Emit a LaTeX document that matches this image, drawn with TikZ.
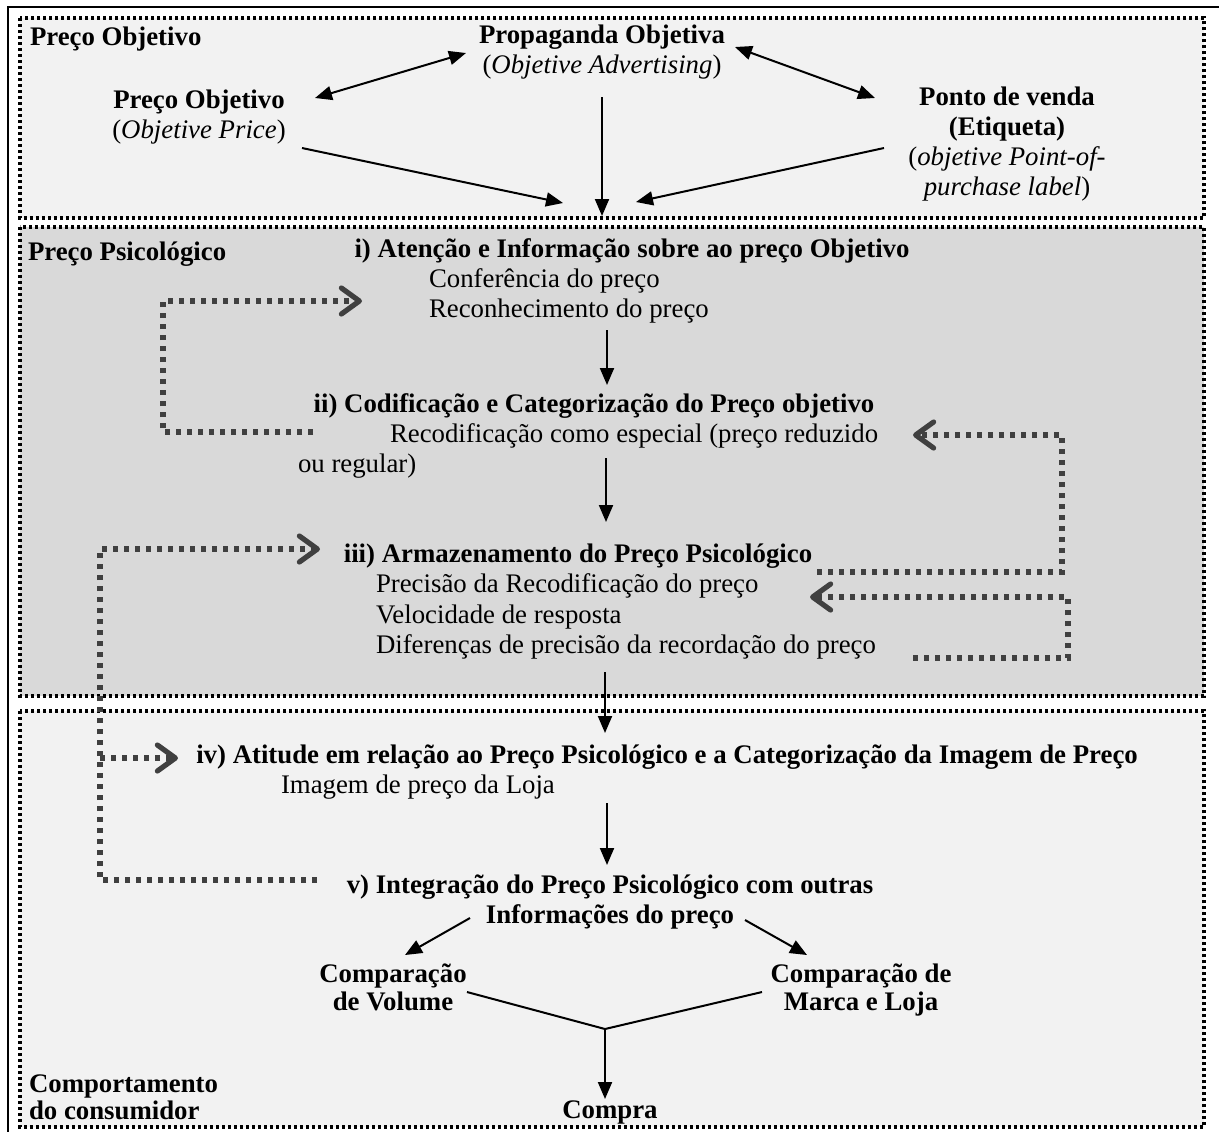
\documentclass[tikz,border=0pt]{standalone}
\usepackage{fontspec}
\setmainfont{Liberation Serif}
\usetikzlibrary{arrows.meta}

\definecolor{fundoclaro}{RGB}{242,242,242}
\definecolor{fundoescuro}{RGB}{217,217,217}
\definecolor{cinzaseta}{RGB}{64,64,64}

\tikzset{every picture/.style={line width=1pt}}
\tikzset{
	caixa/.style={draw=black, line width=1.7pt, dash pattern=on 1.6pt off 1.4pt},
	seta/.style={-{Triangle[length=8.5pt,width=7pt]}, line width=1pt},
	setadupla/.style={{Triangle[length=8.5pt,width=7pt]}-{Triangle[length=8.5pt,width=7pt]}, line width=1pt},
	retorno/.style={draw=cinzaseta, line width=2.6pt, dash pattern=on 2.3pt off 3.2pt, -{Straight Barb[length=9pt,width=13pt,round]}},
	texto/.style={font=\fontsize{13.4}{15}\selectfont, inner sep=0pt},
	titulo/.style={font=\fontsize{13.4}{15}\selectfont\bfseries, inner sep=0pt},
}

\begin{document}
\begin{tikzpicture}[x=0.5pt,y=-0.5pt]
	\useasboundingbox (0,0) rectangle (1219,1131);

	%Outer frame
	\draw [line width=1.2pt] (8,1140) -- (8,7) -- (1230,7) ;

	%Boxes
	\draw [caixa, fill=fundoclaro] (20,18) rectangle (1204,218) ;
	\draw [caixa, fill=fundoescuro] (20,227) rectangle (1204,696) ;
	\draw [caixa, fill=fundoclaro] (20,711) rectangle (1204,1127) ;

	% Preço Objetivo
	\node [titulo, anchor=base west] (rotuloobj) at (29,45) {Preço Objetivo};
	\node [titulo, anchor=base] (prop) at (602,43) {Propaganda Objetiva};
	\node [texto, anchor=base] (prop2) at (602,73) {(\textit{Objetive Advertising})};
	\node [titulo, anchor=base] (preco) at (199,108) {Preço Objetivo};
	\node [texto, anchor=base] (preco2) at (199,138) {(\textit{Objetive Price})};
	\node [titulo, anchor=base] (ponto) at (1007,105) {Ponto de venda};
	\node [titulo, anchor=base] (ponto2) at (1007,135) {(Etiqueta)};
	\node [texto, anchor=base] (ponto3) at (1007,165) {(\textit{objetive Point-of-}};
	\node [texto, anchor=base] (ponto4) at (1007,195) {\textit{purchase label})};

	% Preço Psicológico
	\node [titulo, anchor=base west] (rotulopsi) at (27,260) {Preço Psicológico};
	\node [titulo, anchor=base] (atencao) at (632,257) {i) Atenção e Informação sobre ao preço Objetivo};
	\node [texto, anchor=base west] (atencao2) at (428,287) {Conferência do preço};
	\node [texto, anchor=base west] (atencao3) at (428,317) {Reconhecimento do preço};
	\node [titulo, anchor=base] (codif) at (594,412) {ii) Codificação e Categorização do Preço objetivo};
	\node [texto, anchor=base west] (codif2) at (389,442) {Recodificação como especial (preço reduzido};
	\node [texto, anchor=base west] (codif3) at (297,472) {ou regular)};
	\node [titulo, anchor=base] (armaz) at (578,562) {iii) Armazenamento do Preço Psicológico};
	\node [texto, anchor=base west] (armaz2) at (375,592) {Precisão da Recodificação do preço};
	\node [texto, anchor=base west] (armaz3) at (375,623) {Velocidade de resposta};
	\node [texto, anchor=base west] (armaz4) at (375,653) {Diferenças de precisão da recordação do preço};

	% Comportamento do consumidor
	\node [titulo, anchor=base] (atitude) at (667,763) {iv) Atitude em relação ao Preço Psicológico e a Categorização da Imagem de Preço};
	\node [texto, anchor=base west] (atitude2) at (280,793) {Imagem de preço da Loja};
	\node [titulo, anchor=base] (integra) at (610,893) {v) Integração do Preço Psicológico com outras};
	\node [titulo, anchor=base] (integra2) at (610,923) {Informações do preço};
	\node [titulo, anchor=base] (volume) at (393,982) {Comparação};
	\node [titulo, anchor=base] (volume2) at (393,1010) {de Volume};
	\node [titulo, anchor=base] (marca) at (861,982) {Comparação de};
	\node [titulo, anchor=base] (marca2) at (861,1010) {Marca e Loja};
	\node [titulo, anchor=base] (compra) at (610,1118) {Compra};
	\node [titulo, anchor=base west] (rotulocomp) at (28,1092) {Comportamento};
	\node [titulo, anchor=base west] (rotulocomp2) at (28,1119) {do consumidor};

	%Connector ends
	\coordinate (a1) at (315,98);  \coordinate (a2) at (466,53);
	\coordinate (b1) at (735,47);  \coordinate (b2) at (875,98);
	\coordinate (c1) at (602,97);  \coordinate (c2) at (602,216);
	\coordinate (d1) at (302,148); \coordinate (d2) at (563,203);
	\coordinate (e1) at (884,148); \coordinate (e2) at (636,202);
	\coordinate (f1) at (607,330); \coordinate (f2) at (607,385);
	\coordinate (g1) at (606,458); \coordinate (g2) at (606,522);
	\coordinate (h1) at (605,672); \coordinate (h2) at (605,733);
	\coordinate (k1) at (607,803); \coordinate (k2) at (607,865);
	\coordinate (l1) at (470,918); \coordinate (l2) at (405,955);
	\coordinate (m1) at (745,920); \coordinate (m2) at (807,955);
	\coordinate (n1) at (467,992); \coordinate (n2) at (762,992);
	\coordinate (juncao) at (605,1029); \coordinate (o1) at (605,1099);

	%Straight Lines
	\draw [setadupla] (a1) -- (a2) ;
	\draw [setadupla] (b1) -- (b2) ;
	\draw [seta] (c1) -- (c2) ;
	\draw [seta] (d1) -- (d2) ;
	\draw [seta] (e1) -- (e2) ;
	\draw [seta] (f1) -- (f2) ;
	\draw [seta] (g1) -- (g2) ;
	\draw [seta] (h1) -- (h2) ;
	\draw [seta] (k1) -- (k2) ;
	\draw [seta] (l1) -- (l2) ;
	\draw [seta] (m1) -- (m2) ;
	\draw (n1) -- (juncao) -- (n2) ;
	\draw [seta] (juncao) -- (o1) ;

	%Feedback lines
	\draw [retorno] (313,432) -- (163,432) -- (163,301) -- (362,301) ;
	\draw [retorno] (817,572) -- (1062,572) -- (1062,435) -- (913,435) ;
	\draw [retorno] (913,658) -- (1068,658) -- (1068,597) -- (810,597) ;
	\draw [retorno] (317,880) -- (100,880) -- (100,549) -- (320,549) ;
	\draw [retorno] (100,758) -- (178,758) ;

\end{tikzpicture}
\end{document}
